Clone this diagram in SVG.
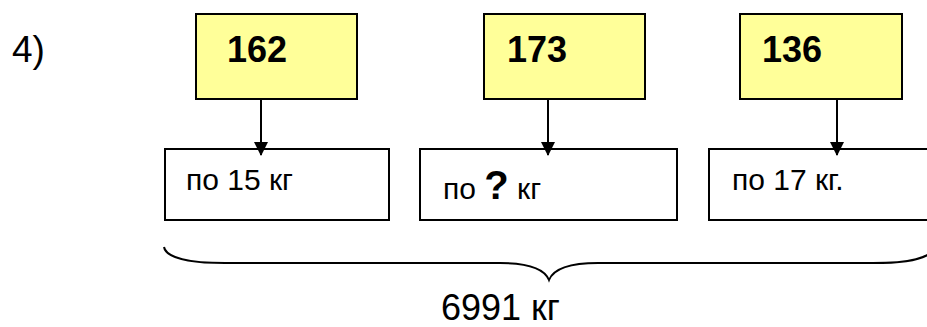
<svg xmlns="http://www.w3.org/2000/svg" width="927" height="327" viewBox="0 0 927 327">
<style>
  .top { fill: #FFFF99; stroke: #000; stroke-width: 2; }
  .bot { fill: #FFFFFF; stroke: #000; stroke-width: 2; }
  .num { font-family: "Liberation Sans", Arial, sans-serif; font-weight: bold; font-size: 36px; fill: #000; }
  .lbl { font-family: "Liberation Sans", Arial, sans-serif; font-size: 30px; fill: #000; }
  .q { font-family: "Liberation Sans", Arial, sans-serif; font-weight: bold; font-size: 40px; fill: #000; }
  .conn { stroke: #000; stroke-width: 2; fill: none; }
</style>
<defs>
  <marker id="arr" viewBox="0 0 14 14" refX="13" refY="7" markerWidth="14" markerHeight="14" markerUnits="userSpaceOnUse" orient="auto">
    <path d="M0,0 L14,7 L0,14 Z" fill="#000"/>
  </marker>
</defs>
<rect width="927" height="327" fill="#fff"/>
<text id="label4" class="lbl" x="12" y="62" style="font-size:37px">4)</text>
<g id="n162">
  <rect class="top" x="196" y="14" width="161" height="85"/>
  <text class="num" x="227" y="62">162</text>
</g>
<g id="n173">
  <rect class="top" x="484" y="14" width="161" height="85"/>
  <text class="num" x="507" y="62">173</text>
</g>
<g id="n136">
  <rect class="top" x="740" y="14" width="162" height="85"/>
  <text class="num" x="762" y="62">136</text>
</g>
<g id="b15">
  <rect class="bot" x="165" y="149" width="224" height="71"/>
  <text class="lbl" x="186" y="190">по 15 кг</text>
</g>
<g id="bq">
  <rect class="bot" x="420" y="149" width="257" height="71"/>
  <text class="lbl" x="443" y="199">по <tspan class="q">?</tspan> кг</text>
</g>
<g id="b17">
  <rect class="bot" x="709" y="149" width="230" height="71"/>
  <text class="lbl" x="732" y="190">по 17 кг.</text>
</g>
<g id="connectors">
  <line class="conn" x1="261" y1="99" x2="261" y2="155" marker-end="url(#arr)"/>
  <line class="conn" x1="548" y1="99" x2="548" y2="155" marker-end="url(#arr)"/>
  <line class="conn" x1="837" y1="99" x2="837" y2="155" marker-end="url(#arr)"/>
</g>
<g id="brace">
  <path class="conn" d="M164,247 C166,258 190,263 225,263 L500,263 C530,263 545,270 549,280 C553,270 568,263 598,263 L873,263 C908,263 932,258 934,247"/>
  <text class="lbl" x="441" y="320" style="font-size:36px">6991 кг</text>
</g>
</svg>
